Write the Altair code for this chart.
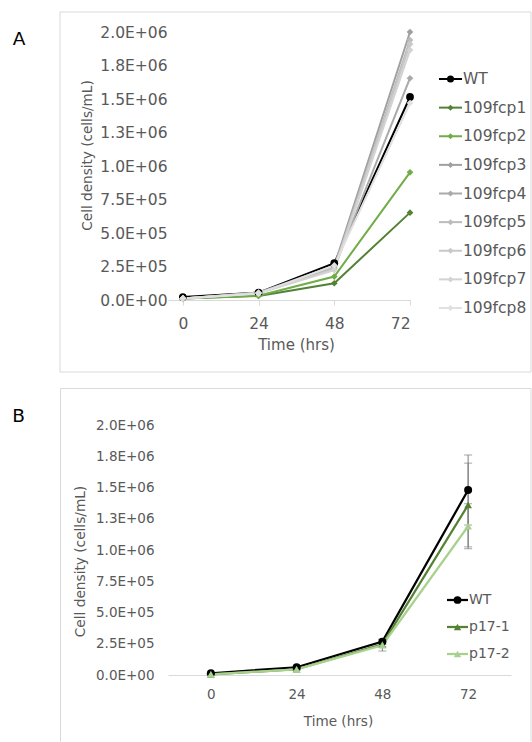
import altair as alt
import pandas as pd

# ---------------- data ----------------
hours = [0, 24, 48, 72]

y_tick_values = [0, 250000, 500000, 750000, 1000000, 1250000, 1500000, 1750000, 2000000]
y_tick_labels = ["0.0E+00", "2.5E+05", "5.0E+05", "7.5E+05", "1.0E+06",
                 "1.3E+06", "1.5E+06", "1.8E+06", "2.0E+06"]

# Panel A
a_series = ["WT", "109fcp1", "109fcp2", "109fcp3", "109fcp4",
            "109fcp5", "109fcp6", "109fcp7", "109fcp8"]
a_colors = ["#000000", "#548235", "#70ad47", "#a0a0a0", "#aaaaaa",
            "#bcbcbc", "#c8c8c8", "#d3d3d3", "#e0e0e0"]
a_shapes = ["circle"] + ["diamond"] * 8
a_wt = [22000, 55000, 275000, 1515000]
a_fcp1 = [12000, 30000, 125000, 652000]
a_fcp2 = [12000, 32000, 175000, 953000]
a_fcp3 = [12000, 55000, 255000, 2000000]
a_fcp4 = [12000, 50000, 240000, 1655000]
a_fcp5 = [12000, 56000, 235000, 1940000]
a_fcp6 = [12000, 50000, 230000, 1910000]
a_fcp7 = [12000, 52000, 222000, 1865000]
a_fcp8 = [12000, 48000, 258000, 1470000]
a_values = [a_wt, a_fcp1, a_fcp2, a_fcp3, a_fcp4, a_fcp5, a_fcp6, a_fcp7, a_fcp8]

# Panel B
b_series = ["WT", "p17-1", "p17-2"]
b_colors = ["#000000", "#548235", "#a9d18e"]
b_shapes = ["circle", "triangle-up", "triangle-up"]
b_wt = [14000, 62000, 267000, 1480000]
b_p171 = [5000, 46000, 245000, 1360000]
b_p172 = [5000, 45000, 238000, 1190000]
b_wt_err = [2000, 5000, 20000, 280000]
b_p171_err = [2000, 5000, 20000, 335000]
b_p172_err = [2000, 5000, 46000, 180000]
b_values = [b_wt, b_p171, b_p172]
b_errors = [b_wt_err, b_p171_err, b_p172_err]

# ---------------- tables ----------------
dfA = pd.DataFrame([
    {"series": s, "hour": h, "density": v}
    for s, vals in zip(a_series, a_values) for h, v in zip(hours, vals)
])
legA = pd.DataFrame({"series": a_series, "idx": list(range(len(a_series)))})

dfB = pd.DataFrame([
    {"series": s, "hour": h, "density": v, "err": e}
    for s, vals, errs in zip(b_series, b_values, b_errors)
    for h, v, e in zip(hours, vals, errs)
])
legB = pd.DataFrame({"series": b_series, "idx": list(range(len(b_series)))})

one = pd.DataFrame({"k": [0]})

FONT = "DejaVu Sans"
GREY = "#595959"
BORDER = "#d9d9d9"
label_expr = "[" + ",".join("'%s'" % t for t in y_tick_labels) + "][round(datum.value / 250000)]"


def y_axis(label_size, label_pad, title_size, title_x, title_y):
    return alt.Axis(values=y_tick_values, labelExpr=label_expr, grid=False, domain=False,
                    ticks=False, tickSize=0, labelPadding=label_pad, labelFontSize=label_size,
                    labelColor=GREY, labelFont=FONT, title="Cell density (cells/mL)",
                    titleFont=FONT, titleFontSize=title_size, titleFontWeight="normal",
                    titleColor=GREY, titleAngle=270, titleX=title_x, titleY=title_y,
                    titleAlign="center", titleBaseline="middle")


# ---------------- panel A ----------------
WA, HA = 242, 268
colorA = alt.Color("series:N", scale=alt.Scale(domain=a_series, range=a_colors), legend=None)
shapeA = alt.Shape("series:N", scale=alt.Scale(domain=a_series, range=a_shapes), legend=None)
xA_scale = alt.Scale(domain=[-4.7, 72], nice=False, zero=False)
xA = alt.X("hour:Q", scale=xA_scale,
           axis=alt.Axis(values=hours, format="d", grid=False, domainColor=BORDER,
                         tickColor=BORDER, tickSize=5, labelPadding=11, labelFontSize=15.5,
                         labelColor=GREY, labelFont=FONT, title="Time (hrs)", titleFont=FONT,
                         titleFontSize=15, titleFontWeight="normal", titleColor=GREY,
                         titleX=128, titleY=44.5, titleAlign="center", titleBaseline="middle"))
yA_scale = alt.Scale(domain=[0, 2000000], nice=False, zero=True)

# invisible rectangle fixing the page extent (0..532 x 0..742)
bgA = alt.Chart(one).mark_rect(fill="white", fillOpacity=0, strokeWidth=0).encode(
    x=alt.value(-168), x2=alt.value(364), y=alt.value(-32), y2=alt.value(710))
frameA = alt.Chart(one).mark_rect(fillOpacity=0, stroke=BORDER, strokeWidth=1).encode(
    x=alt.value(-108), x2=alt.value(363), y=alt.value(-20), y2=alt.value(340))
letterA = alt.Chart(one).mark_text(text="A", font=FONT, fontSize=18.5, color="black",
                                   align="center", baseline="middle").encode(
    x=alt.value(-149), y=alt.value(6.5))

linesA = alt.Chart(dfA).mark_line(strokeWidth=2).encode(
    x=xA,
    y=alt.Y("density:Q", scale=yA_scale,
            axis=y_axis(15.5, 1, 13.6, -80.5, 123)),
    color=colorA)
pointsA = alt.Chart(dfA).mark_point(filled=True, opacity=1).encode(
    x=alt.X("hour:Q", scale=xA_scale),
    y=alt.Y("density:Q", scale=yA_scale, axis=None),
    color=colorA, shape=shapeA,
    size=alt.condition(alt.datum.series == "WT", alt.value(60), alt.value(45)))

legYA = alt.Y("idx:Q", scale=alt.Scale(domain=[0, 8], range=[47, 276]), axis=None)
legLineA = alt.Chart(legA).mark_rule(strokeWidth=2).encode(
    x=alt.value(271), x2=alt.value(294), y=legYA, color=colorA)
legPtA = alt.Chart(legA).mark_point(filled=True, opacity=1).encode(
    x=alt.value(282.5), y=legYA, color=colorA, shape=shapeA,
    size=alt.condition(alt.datum.series == "WT", alt.value(50), alt.value(36)))
legTxtA = alt.Chart(legA).mark_text(align="left", baseline="middle", font=FONT,
                                    fontSize=15.5, color=GREY).encode(
    x=alt.value(295), y=legYA, text="series:N")

panelA = alt.layer(bgA, frameA, letterA, linesA, pointsA, legLineA, legPtA, legTxtA).resolve_scale(
    y="independent").properties(width=WA, height=HA)

# ---------------- panel B ----------------
WB, HB = 343, 250
colorB = alt.Color("series:N", scale=alt.Scale(domain=b_series, range=b_colors), legend=None)
shapeB = alt.Shape("series:N", scale=alt.Scale(domain=b_series, range=b_shapes), legend=None)
xB_scale = alt.Scale(domain=[-12, 84], nice=False, zero=False)
xB = alt.X("hour:Q", scale=xB_scale,
           axis=alt.Axis(values=hours, format="d", grid=False, domainColor=BORDER,
                         ticks=False, tickSize=0, labelPadding=12, labelFontSize=13.5,
                         labelColor=GREY, labelFont=FONT, title="Time (hrs)", titleFont=FONT,
                         titleFontSize=13.6, titleFontWeight="normal", titleColor=GREY,
                         titleX=170, titleY=46, titleAlign="center", titleBaseline="middle"))
yB_scale = alt.Scale(domain=[0, 2000000], nice=False, zero=True)

# frame of panel B (left, top and right edges; the bottom runs off the page)
frameBl = alt.Chart(one).mark_rule(color=BORDER, strokeWidth=1).encode(
    x=alt.value(-107.5), y=alt.value(-36.5), y2=alt.value(316.5))
frameBt = alt.Chart(one).mark_rule(color=BORDER, strokeWidth=1).encode(
    x=alt.value(-107.5), x2=alt.value(363), y=alt.value(-36.5))
frameBr = alt.Chart(one).mark_rule(color=BORDER, strokeWidth=1).encode(
    x=alt.value(363), y=alt.value(-36.5), y2=alt.value(316.5))
letterB = alt.Chart(one).mark_text(text="B", font=FONT, fontSize=18.5, color="black",
                                   align="center", baseline="middle").encode(
    x=alt.value(-149.5), y=alt.value(-9))

linesB = alt.Chart(dfB).mark_line(strokeWidth=2.25).encode(
    x=xB,
    y=alt.Y("density:Q", scale=yB_scale, axis=y_axis(13.5, 14, 13.7, -87.5, 136)),
    color=colorB)

errBase = alt.Chart(dfB).transform_calculate(
    lo="datum.density - datum.err", hi="datum.density + datum.err")
errRule = errBase.mark_rule(color="#7f7f7f", strokeWidth=1).encode(
    x=alt.X("hour:Q", scale=xB_scale),
    y=alt.Y("lo:Q", scale=yB_scale, axis=None), y2="hi:Q")
errLo = errBase.mark_tick(color="#7f7f7f", thickness=1, size=8, orient="horizontal").encode(
    x=alt.X("hour:Q", scale=xB_scale),
    y=alt.Y("lo:Q", scale=yB_scale, axis=None))
errHi = errBase.mark_tick(color="#7f7f7f", thickness=1, size=8, orient="horizontal").encode(
    x=alt.X("hour:Q", scale=xB_scale),
    y=alt.Y("hi:Q", scale=yB_scale, axis=None))

pointsB = alt.Chart(dfB).mark_point(filled=True, opacity=1).encode(
    x=alt.X("hour:Q", scale=xB_scale),
    y=alt.Y("density:Q", scale=yB_scale, axis=None),
    color=colorB, shape=shapeB,
    size=alt.condition(alt.datum.series == "WT", alt.value(64), alt.value(60)))

legYB = alt.Y("idx:Q", scale=alt.Scale(domain=[0, 2], range=[175, 229]), axis=None)
legLineB = alt.Chart(legB).mark_rule(strokeWidth=2.25).encode(
    x=alt.value(279), x2=alt.value(300), y=legYB, color=colorB)
legPtB = alt.Chart(legB).mark_point(filled=True, opacity=1).encode(
    x=alt.value(289.5), y=legYB, color=colorB, shape=shapeB,
    size=alt.condition(alt.datum.series == "WT", alt.value(60), alt.value(55)))
legTxtB = alt.Chart(legB).mark_text(align="left", baseline="middle", font=FONT,
                                    fontSize=14, color=GREY).encode(
    x=alt.value(301), y=legYB, text="series:N")

panelB = alt.layer(frameBl, frameBt, frameBr, letterB, linesB, errRule, errLo, errHi, pointsB,
                   legLineB, legPtB, legTxtB).resolve_scale(
    y="independent").properties(width=WB, height=HB)

chart = alt.vconcat(panelA, panelB, spacing=125, bounds="flush").resolve_scale(
    color="independent", shape="independent"
).properties(
    padding=0, background="white"
).configure(font=FONT).configure_view(strokeWidth=0, strokeOpacity=0)

chart.save("out.html", embed_options={"renderer": "svg", "actions": False})
